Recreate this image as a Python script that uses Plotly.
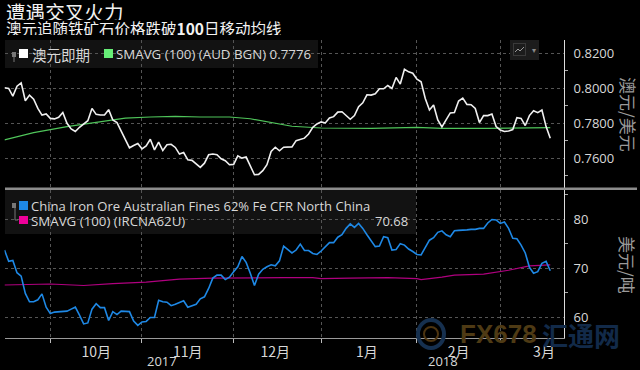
import plotly.graph_objects as go

aud_spot = [.8004,.8000,.7956,.8013,.8032,.7930,.7962,.7939,.7886,.7848,.7854,.7829,.7826,.7835,.7863,.7801,.7769,.7754,.7778,.7797,
.7816,.7886,.7852,.7848,.7848,.7879,.7820,.7805,.7754,.7706,.7661,.7674,.7685,.7655,.7672,.7710,.7649,.7693,.7645,.7678,
.7681,.7663,.7625,.7634,.7592,.7589,.7570,.7549,.7573,.7621,.7625,.7621,.7598,.7587,.7564,.7566,.7615,.7602,.7608,.7554,
.7507,.7509,.7530,.7564,.7640,.7664,.7644,.7664,.7663,.7666,.7702,.7708,.7716,.7740,.7778,.7797,.7809,.7803,.7831,.7839,
.7865,.7867,.7848,.7824,.7845,.7896,.7918,.7964,.7962,.7970,.7998,.7998,.8017,.8000,.8063,.8025,.8110,.8095,.8087,.8053,
.8038,.7943,.7877,.7905,.7820,.7780,.7820,.7860,.7862,.7928,.7945,.7909,.7907,.7886,.7805,.7845,.7845,.7854,.7782,.7763,
.7754,.7757,.7765,.7833,.7829,.7788,.7845,.7873,.7862,.7877,.7782,.7716]
aud_sma_day = [0,7,15,23,29,35,41,47,54,59,66,69,76,83,88,99,105,116,124,131]
aud_sma = [.7706,.7748,.7782,.7810,.7831,.7837,.7841,.7837,.7837,.7827,.7795,.7784,.7774,.7772,.7772,.7778,.7772,.7772,.7773,.7776]

iron_ore = [73.7,71.4,71.6,69.1,68.4,64.9,63.2,63.2,63.6,64.8,62.1,60.8,61.1,61.2,61.3,61.3,61.7,62.1,60.5,58.7,
58.9,61.7,62.8,62.0,62.0,59.4,61.2,60.6,61.3,61.3,61.2,59.3,58.4,59.1,59.2,60.0,60.0,63.5,63.2,63.1,
62.4,62.7,63.0,63.4,62.1,62.4,62.7,63.8,64.2,65.9,68.0,68.6,68.6,67.7,68.2,69.3,70.3,72.4,71.2,69.0,
66.5,68.8,69.8,70.3,70.7,70.5,71.5,74.5,73.7,73.1,73.7,74.9,73.6,73.6,73.0,72.8,73.5,74.4,75.2,75.2,
76.3,76.8,78.1,79.0,78.3,79.1,78.1,76.8,75.6,74.4,74.5,76.4,76.2,73.7,73.8,75.0,74.7,73.9,73.4,72.8,
72.7,74.1,75.7,76.2,77.3,77.6,76.8,76.4,77.6,77.7,77.7,77.8,77.9,77.9,78.1,78.1,79.2,79.9,79.8,79.1,
79.4,78.1,76.1,76.0,74.7,73.1,70.2,69.0,69.3,71.0,71.4,69.5]
iron_sma_day = [0,7,11,19,26,34,42,50,59,67,74,76,83,92,99,100,105,108,115,121,126,131]
iron_sma = [66.6,66.7,66.8,66.5,66.9,67.2,67.8,68.0,68.1,68.1,68.1,67.9,68.0,68.1,67.9,67.7,68.2,68.6,68.8,69.6,70.5,70.68]

month_bounds = [11,33,55,76,99,119]
month_centres = [22,44,65,87,109,129.5]
month_labels = ["10月","11月","12月","1月","2月","3月"]
aud_ticks = [.76,.78,.80,.82]
aud_minor = [.75,.77,.79,.81]
iron_ticks = [60,70,80]
iron_minor = [65,75,85]

W, H = 640, 370
FONT = "Open Sans"
CJK = "Noto Sans CJK SC"
TXT = "#d8d8d8"
GRID = "#555555"
XMAX = 134.3
def px(x): return x / W
def py(y): return 1 - y / H

fig = go.Figure()
days = list(range(len(aud_spot)))
fig.add_trace(go.Scatter(x=aud_sma_day, y=aud_sma, mode="lines", line=dict(color="#4fc45a", width=1.2), xaxis="x", yaxis="y"))
fig.add_trace(go.Scatter(x=days, y=aud_spot, mode="lines", line=dict(color="#f0f0f0", width=1.6), xaxis="x", yaxis="y"))
fig.add_trace(go.Scatter(x=iron_sma_day, y=iron_sma, mode="lines", line=dict(color="#b0007f", width=1.2), xaxis="x2", yaxis="y2"))
fig.add_trace(go.Scatter(x=days, y=iron_ore, mode="lines", line=dict(color="#1e88e5", width=1.6), xaxis="x2", yaxis="y2"))
for ticks, ya, xa in ((aud_ticks, "y", "x"), (iron_ticks, "y2", "x2")):
    fig.add_trace(go.Scatter(x=[XMAX + 0.6] * len(ticks), y=ticks, mode="markers", cliponaxis=False,
                             marker=dict(symbol="triangle-right", size=7, color="#ffffff"), xaxis=xa, yaxis=ya))

xcommon = dict(range=[0, XMAX], showline=False, zeroline=False, showgrid=False)
minor_x = dict(tickmode="array", tickvals=month_bounds, showgrid=True, gridcolor=GRID, griddash="dot", gridwidth=1)
fig.update_layout(
    width=W, height=H, margin=dict(l=0, r=0, t=0, b=0), showlegend=False,
    paper_bgcolor="#000000", plot_bgcolor="#000000",
    font=dict(family=FONT, color=TXT, size=13),
    xaxis=dict(domain=[px(4.5), px(564)], anchor="y", tickvals=[], minor=dict(**minor_x, ticks=""), **xcommon),
    xaxis2=dict(domain=[px(4.5), px(564)], anchor="y2", tickmode="array", tickvals=month_centres, ticktext=month_labels,
                ticks="", ticklabelstandoff=1, tickfont=dict(family=CJK, size=14, color=TXT),
                minor=dict(**minor_x, ticks="outside", ticklen=4, tickcolor="#bbbbbb"),
                **{**xcommon, "showline": True}, linecolor="#9a9a9a", linewidth=1),
    yaxis=dict(domain=[py(187.5), py(40)], range=[.7434, .8277], side="right", anchor="x", tickmode="array", tickvals=aud_ticks,
               ticktext=["%.4f" % v for v in aud_ticks], ticks="", ticklabelstandoff=6, showgrid=True, gridcolor=GRID, griddash="dot",
               showline=True, linecolor="#dddddd", zeroline=False,
               minor=dict(tickmode="array", tickvals=aud_minor, ticks="outside", ticklen=3, tickcolor="#aaaaaa")),
    yaxis2=dict(domain=[py(338), py(190)], range=[55.84, 85.89], side="right", anchor="x2", tickmode="array", tickvals=iron_ticks,
                ticks="", ticklabelstandoff=6, showgrid=True, gridcolor=GRID, griddash="dot",
                showline=True, linecolor="#dddddd", zeroline=False,
                minor=dict(tickmode="array", tickvals=iron_minor, ticks="outside", ticklen=3, tickcolor="#aaaaaa")),
)

def rect(x0, y0, x1, y1, color, layer="above"):
    fig.add_shape(type="rect", xref="paper", yref="paper", x0=px(x0), x1=px(x1), y0=py(y0), y1=py(y1),
                  fillcolor=color, line_width=0, layer=layer)
def line(x0, y0, x1, y1, color, width=1):
    fig.add_shape(type="line", xref="paper", yref="paper", x0=px(x0), x1=px(x1), y0=py(y0), y1=py(y1),
                  line=dict(color=color, width=width))
def text(x, y, s, size=13, color=TXT, family=FONT, anchor="left", angle=0, **kw):
    fig.add_annotation(xref="paper", yref="paper", x=px(x), y=py(y), text=s, showarrow=False, xanchor=anchor, yanchor="middle",
                       font=dict(size=size, color=color, family=family), textangle=angle, **kw)

# panel separator, legend boxes
rect(5, 187.5, 637, 190, "#8c8c8c")
rect(5, 40, 318, 68, "rgba(255,255,255,0.07)", "below")
rect(5, 190, 416, 234, "rgba(255,255,255,0.07)", "below")

# legends
rect(19, 49, 28, 58, "#ffffff")
rect(104, 49, 113, 58, "#66ee77")
rect(19, 201, 28, 210, "#1e88e5")
rect(19, 216, 28, 224, "#ee0099")
for y0 in (52, 203):
    rect(12, y0, 16, y0 + 5, "#777777")
line(14, 57, 14, 62, "#777777")
line(15, 208, 15, 220, "#777777")
line(15, 220, 18, 220, "#777777")
text(30, 54, "澳元即期", 14.5, family=CJK)
text(114, 54.5, "SMAVG (100) (AUD BGN) 0.7776", 13.3)
text(29, 206, "China Iron Ore Australian Fines 62% Fe CFR North China", 13.05)
text(29, 220.5, "SMAVG (100) (IRCNA62U)", 13.3)
text(410, 221, "70.68", 13, anchor="right")

# titles
text(4, 10.5, "遭遇交叉火力", 19.6, "#f2f2f2", CJK, height=18)
text(4, 27.5, "澳元追随铁矿石价格跌破<b>100</b>日移动均线", 15.5, "#f2f2f2", CJK, height=15)

# axis titles
text(628, 114, "澳元/美元", 17, "#9a9a9a", CJK, anchor="center", angle=90)
text(628, 265, "美元/吨", 17, "#9a9a9a", CJK, anchor="center", angle=90)

# year labels
text(162, 361, "2017", 13, anchor="center")
text(443, 361, "2018", 13, anchor="center")

# chart-type icon
rect(510, 40, 539, 60, "#1c1c1c")
rect(513, 43, 526, 56, "#3a3a3a")
rect(514, 44, 525, 55, "#1c1c1c")
line(515, 52, 518, 49, "#999999"); line(518, 49, 520, 51, "#999999"); line(520, 51, 524, 47, "#999999")
text(534, 49.5, "▾", 8, "#888888", anchor="center")

# watermark
fig.add_shape(type="circle", xref="paper", yref="paper", x0=px(418), x1=px(444), y0=py(348), y1=py(320),
              line=dict(color="#16304f", width=4), fillcolor="rgba(0,0,0,0)")
fig.add_shape(type="circle", xref="paper", yref="paper", x0=px(424), x1=px(438), y0=py(341), y1=py(327),
              line=dict(color="#4d3410", width=2), fillcolor="rgba(0,0,0,0)")
text(458, 334, "<b>FX678</b>", 26, "#4e3a14", "Liberation Sans")
text(540, 334, "<b>汇通网</b>", 26, "#122a49", CJK)

fig.write_html("out.html", config=dict(displayModeBar=False),
               post_script="document.body.style.margin='0';document.body.style.overflow='hidden';")
